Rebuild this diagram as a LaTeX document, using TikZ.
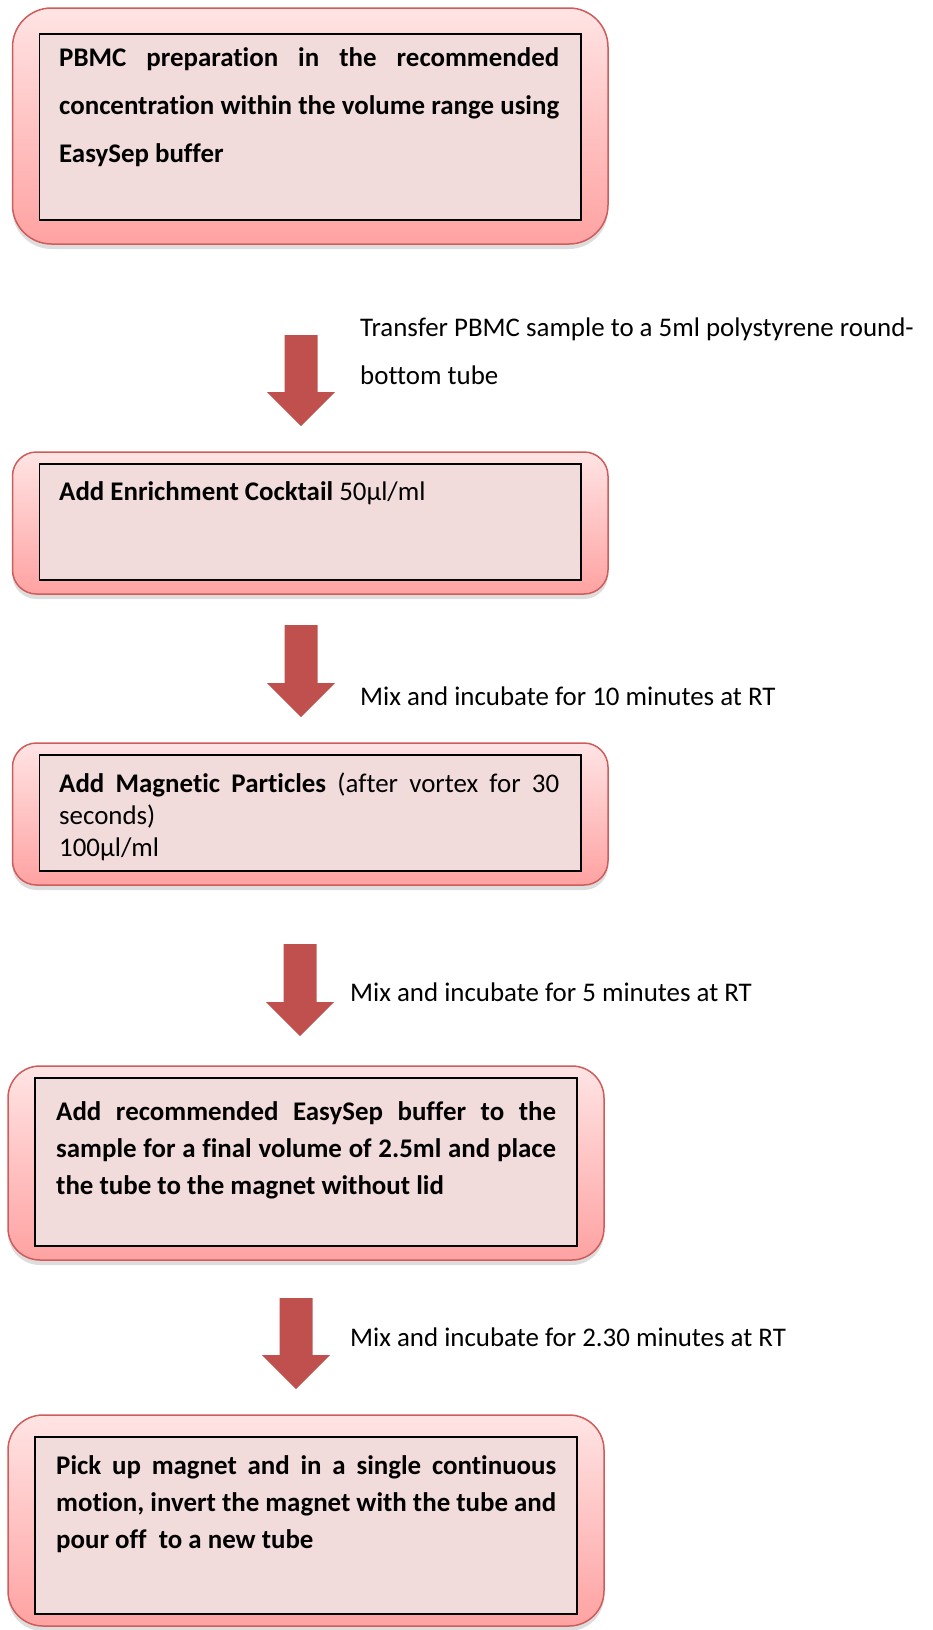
\documentclass[tikz,border=0pt]{standalone}
\usepackage{fontspec}
\setmainfont[Ligatures=NoCommon]{Carlito}
\usetikzlibrary{shadows}
\definecolor{bordred}{RGB}{205,92,90}
\definecolor{arrred}{RGB}{192,80,77}
\definecolor{innerfill}{RGB}{242,220,219}
\definecolor{topfill}{RGB}{255,228,228}
\definecolor{botfill}{RGB}{255,162,162}
\newcommand{\fsz}[1]{\fontsize{26.9pt}{#1pt}\selectfont}
\newcommand{\blockarrow}[3]{\fill[arrred] (#1-16.5,#2) -- (#1+16.5,#2) -- (#1+16.5,#3-34) -- (#1+34,#3-34) -- (#1,#3) -- (#1-34,#3-34) -- (#1-16.5,#3-34) -- cycle;}
\tikzset{
  outerbox/.style={rectangle, draw=bordred, line width=1.5pt, top color=topfill, bottom color=botfill,
    drop shadow={shadow xshift=0pt, shadow yshift=-5pt, opacity=0.22, fill=black!60}, inner sep=0pt},
  innerbox/.style={rectangle, draw=black, line width=1.5pt, fill=innerfill, inner sep=0pt},
  boxtext/.style={anchor=base west, inner sep=0pt, text=black},
}
\begin{document}
\begin{tikzpicture}[x=1pt,y=-1pt]
\useasboundingbox (0,0) rectangle (932,1630);
% Box 1
\node[outerbox, rounded corners=39pt, minimum width=595.5pt, minimum height=236pt] (o1) at (310.25,126) {};
\node[innerbox, minimum width=541.5pt, minimum height=186pt] (i1) at (310.25,127) {};
\node[boxtext] (t1) at (59,66) {\parbox[t]{500pt}{\fsz{48.3}\bfseries PBMC preparation in the recommended\linebreak concentration within the volume range using\linebreak EasySep buffer}};
% Arrow 1 + label
\blockarrow{301}{335}{426}
\node[boxtext] (l1) at (360,336) {\parbox[t]{600pt}{\fsz{48.8}Transfer PBMC sample to a 5ml polystyrene round-\\bottom tube}};
% Box 2
\node[outerbox, rounded corners=24pt, minimum width=595.5pt, minimum height=142pt] (o2) at (310.25,523) {};
\node[innerbox, minimum width=541.5pt, minimum height=116pt] (i2) at (310.25,522) {};
\node[boxtext] (t2) at (59,500) {\fsz{32.2}\textbf{Add Enrichment Cocktail} 50µl/ml};
% Arrow 2 + label
\blockarrow{301}{625}{717}
\node[boxtext] (l2) at (360,705) {\fsz{32.2}Mix and incubate for 10 minutes at RT};
% Box 3
\node[outerbox, rounded corners=24pt, minimum width=595.5pt, minimum height=142pt] (o3) at (310.25,814) {};
\node[innerbox, minimum width=541.5pt, minimum height=116pt] (i3) at (310.25,813) {};
\node[boxtext] (t3) at (59,792) {\parbox[t]{500pt}{\fsz{32.2}\textbf{Add Magnetic Particles} (after vortex for 30\linebreak seconds)\\100µl/ml}};
% Arrow 3 + label
\blockarrow{300}{944}{1036}
\node[boxtext] (l3) at (350,1001) {\fsz{32.2}Mix and incubate for 5 minutes at RT};
% Box 4
\node[outerbox, rounded corners=32pt, minimum width=596pt, minimum height=194pt] (o4) at (306,1163) {};
\node[innerbox, minimum width=542pt, minimum height=168pt] (i4) at (306,1162) {};
\node[boxtext] (t4) at (56,1120) {\parbox[t]{500pt}{\fsz{37.4}\bfseries Add recommended EasySep buffer to the\linebreak sample for a final volume of 2.5ml and place\linebreak the tube to the magnet without lid}};
% Arrow 4 + label
\blockarrow{296}{1298}{1389}
\node[boxtext] (l4) at (350,1346) {\fsz{32.2}Mix and incubate for 2.30 minutes at RT};
% Box 5
\node[outerbox, rounded corners=35pt, minimum width=596pt, minimum height=211pt] (o5) at (306,1520.5) {};
\node[innerbox, minimum width=542pt, minimum height=177pt] (i5) at (306,1525.5) {};
\node[boxtext] (t5) at (56,1474) {\parbox[t]{500pt}{\fsz{37.4}\bfseries Pick up magnet and in a single continuous\linebreak motion, invert the magnet with the tube and\linebreak pour off~ to a new tube}};
\end{tikzpicture}
\end{document}
